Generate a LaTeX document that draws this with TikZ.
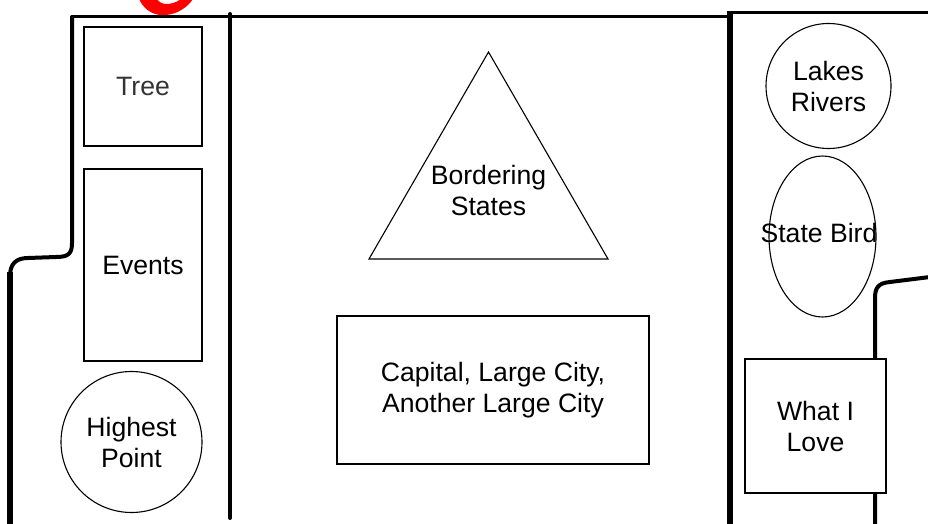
\documentclass[tikz,border=0pt]{standalone}
\usepackage{fontspec}
\setmainfont{Liberation Sans}
\usetikzlibrary{shapes.geometric}
\begin{document}
\begin{tikzpicture}[x=1pt,y=-1pt,
  thin box/.style={draw=black, line width=1.1pt, fill=white, inner sep=0pt, align=center,
    font=\fontsize{26.6}{31}\selectfont},
  label text/.style={inner sep=0pt, align=center, font=\fontsize{26.6}{31}\selectfont},
  outline/.style={draw=black, line cap=round, line join=round}]
\useasboundingbox (0,0) rectangle (928,524);
\clip (0,0) rectangle (928,524);
\fill[white] (0,0) rectangle (928,524);
% red fragment at top
\fill[red] (139,-1) .. controls (145,12) and (156,16) .. (166,15)
   .. controls (177,14) and (187,8) .. (193,-1) -- (181,-1)
   .. controls (176,3) and (170,4) .. (166,4) .. controls (162,4) and (159,2) .. (157,-1) -- cycle;
% outline
\draw[outline, line width=3pt] (72,17) -- (730,17);
\draw[outline, line width=3pt] (730,13) -- (930,13);
\draw[outline, line width=4pt] (72,17) -- (72,243) .. controls (72,254) and (68,257) .. (56,257)
   -- (28,258) .. controls (16,258) and (10,264) .. (10,276);
\draw[black, line width=6pt] (10,272) -- (10,526);
\draw[outline, line width=4pt] (230,14) -- (230,518);
\draw[black, line width=6pt] (730,11) -- (730,526);
\draw[outline, line width=4pt] (930,277) -- (890,282) .. controls (878,283) and (875,288) .. (875,298) -- (875,526);
% nodes
\node[thin box, rectangle, minimum width=118pt, minimum height=119pt, text=black!80] (tree) at (143,86.5) {Tree};
\node[thin box, rectangle, minimum width=118pt, minimum height=192pt] (events) at (143,265) {Events};
\node[thin box, circle, minimum size=141pt] (highest) at (131.5,442) {Highest\\Point};
\node[thin box, regular polygon, regular polygon sides=3, minimum size=276pt] (bordering) at (488.5,190) {};
\node[label text] (borderingtext) at (488.5,190) {Bordering\\States};
\node[thin box, rectangle, minimum width=312pt, minimum height=148pt] (capital) at (493,390) {Capital, Large City,\\Another Large City};
\node[thin box, circle, minimum size=125pt] (lakes) at (828.5,86) {Lakes\\Rivers};
\node[thin box, ellipse, minimum width=107pt, minimum height=161pt] (bird) at (822.5,236.5) {};
\node[label text] (birdtext) at (819,233) {State Bird};
\node[thin box, rectangle, minimum width=141pt, minimum height=134pt] (love) at (815.5,426) {What I\\Love};
\end{tikzpicture}
\end{document}
